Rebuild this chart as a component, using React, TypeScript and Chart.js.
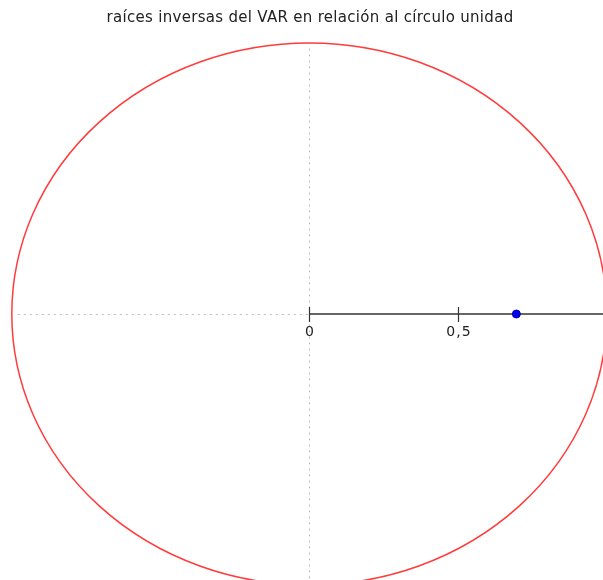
import React, { useEffect, useRef } from "react";
import { Chart, registerables } from "chart.js";

Chart.register(...registerables);

const titleText = "raíces inversas del VAR en relación al círculo unidad";
const rootsReal = [0.696];
const rootsImag = [0];
const axisTickValues = [0, 0.5, 1];
const axisTickLabels = ["0", "0,5", "1"];

const xMin = -1.0397;
const xMax = 0.9872;
const yMin = -0.9815;
const yMax = 1.1587;

const unitCirclePlugin = {
  id: "unitCircle",
  beforeDatasetsDraw(chart: any) {
    const ctx = chart.ctx;
    const xs = chart.scales.x;
    const ys = chart.scales.y;
    const cx = xs.getPixelForValue(0);
    const cy = ys.getPixelForValue(0);
    const rx = xs.getPixelForValue(1) - cx;
    const ry = cy - ys.getPixelForValue(1);
    ctx.save();
    // dotted guides
    ctx.strokeStyle = "#bbbbbb";
    ctx.lineWidth = 1;
    ctx.setLineDash([2, 4]);
    ctx.beginPath();
    ctx.moveTo(Math.round(cx) + 0.5, ys.getPixelForValue(0.98));
    ctx.lineTo(Math.round(cx) + 0.5, ys.getPixelForValue(-1));
    ctx.moveTo(xs.getPixelForValue(-0.98), Math.round(cy) + 0.5);
    ctx.lineTo(cx, Math.round(cy) + 0.5);
    ctx.stroke();
    ctx.setLineDash([]);
    // unit circle
    ctx.strokeStyle = "#ff3b3b";
    ctx.lineWidth = 1.5;
    ctx.beginPath();
    ctx.ellipse(cx, cy, rx, ry, 0, 0, Math.PI * 2);
    ctx.stroke();
    // solid axis from 0 to 1
    ctx.strokeStyle = "#333333";
    ctx.lineWidth = 1.5;
    ctx.beginPath();
    ctx.moveTo(cx, cy);
    ctx.lineTo(xs.getPixelForValue(1), cy);
    ctx.stroke();
    ctx.lineWidth = 1.2;
    ctx.fillStyle = "#222222";
    ctx.font = "14px 'DejaVu Sans', Verdana, sans-serif";
    ctx.textAlign = "center";
    ctx.textBaseline = "top";
    try {
      ctx.letterSpacing = "1px";
    } catch (e) {}
    axisTickValues.forEach((v, i) => {
      const px = Math.round(xs.getPixelForValue(v)) + 0.5;
      ctx.beginPath();
      ctx.moveTo(px, cy - 7);
      ctx.lineTo(px, cy + 8);
      ctx.stroke();
      ctx.fillText(axisTickLabels[i], px + 0.5, cy + 11);
    });
    ctx.restore();
  },
};

export default function App() {
  const canvasRef = useRef<HTMLCanvasElement | null>(null);

  useEffect(() => {
    document.body.style.margin = "0";
    const canvas = canvasRef.current;
    if (!canvas) return;
    const chart = new Chart(canvas, {
      type: "scatter",
      data: {
        datasets: [
          {
            label: "raíces",
            data: rootsReal.map((re, i) => ({ x: re, y: rootsImag[i] })),
            backgroundColor: "#0000ee",
            borderColor: "#0000aa",
            borderWidth: 1,
            pointRadius: 4,
          },
        ],
      },
      options: {
        animation: false,
        responsive: false,
        maintainAspectRatio: false,
        layout: { padding: 0, autoPadding: false },
        plugins: {
          legend: { display: false },
          tooltip: { enabled: false },
          title: { display: false },
        },
        scales: {
          x: { type: "linear", min: xMin, max: xMax, display: false },
          y: { type: "linear", min: yMin, max: yMax, display: false },
        },
      },
      plugins: [unitCirclePlugin],
    });
    return () => chart.destroy();
  }, []);

  return (
    <div style={{ position: "relative", width: 603, height: 580, overflow: "hidden", background: "#fff" }}>
      <canvas ref={canvasRef} width={603} height={580} style={{ position: "absolute", left: 0, top: 0 }} />
      <div
        style={{
          position: "absolute",
          left: 0,
          top: 8,
          width: 620,
          textAlign: "center",
          fontFamily: "'DejaVu Sans', Verdana, sans-serif",
          fontSize: 15,
          letterSpacing: "0.3px",
          color: "#222",
          whiteSpace: "nowrap",
        }}
      >
        {titleText}
      </div>
    </div>
  );
}
